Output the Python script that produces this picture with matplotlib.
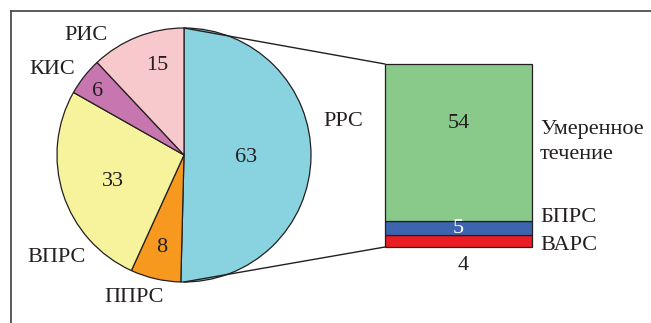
import numpy as np
import matplotlib
import matplotlib.pyplot as plt
from matplotlib.patches import ConnectionPatch
from matplotlib.lines import Line2D

matplotlib.use("Agg")

plt.rcParams["font.family"] = ["Liberation Serif", "DejaVu Serif"]

# pie data (clockwise from 12 o'clock)
pie_labels = ["РРС", "ППРС", "ВПРС", "КИС", "РИС"]
pie_values = [63, 8, 33, 6, 15]
pie_colors = ["#89d3e0", "#f7991f", "#f7f29c", "#c776b0", "#f8c9cc"]

# breakdown of РРС (bottom to top)
bar_labels = ["ВАРС", "БПРС", "Умеренное\nтечение"]
bar_values = [4, 5, 54]
bar_colors = ["#ec1c24", "#3d64af", "#89c98a"]

W, H = 651, 323
TXT = "#231f20"
FS = 16

fig = plt.figure(figsize=(W / 100, H / 100), dpi=100)


def fx(px):
    return px / W


def fy(py):
    return 1 - py / H


# pie axes: centre (184,155) px, radius 127 px
cx, cy, r = 184, 155, 127
pad = 1.1
ax_pie = fig.add_axes([fx(cx - r * pad), fy(cy + r * pad), 2 * r * pad / W, 2 * r * pad / H])
ax_pie.pie(pie_values, colors=pie_colors, startangle=90, counterclock=False,
           radius=1, wedgeprops=dict(edgecolor="#231f20", linewidth=0.9))
ax_pie.set_xlim(-pad, pad)
ax_pie.set_ylim(-pad, pad)
ax_pie.axis("off")

# value labels inside the pie (pixel positions)
pie_value_pos = [(246, 158), (162, 248), (113, 181), (98, 92), (157, 66)]
for v, (px, py) in zip(pie_values, pie_value_pos):
    fig.text(fx(px), fy(py), str(v), ha="center", va="center", fontsize=FS, color=TXT)

# category labels around the pie
pie_label_pos = [(343, 122), (134, 297), (57, 258), (52, 69), (86, 35)]
for lab, (px, py) in zip(pie_labels, pie_label_pos):
    fig.text(fx(px), fy(py), lab, ha="center", va="center", fontsize=FS, color=TXT)

# stacked bar axes
bx0, bx1, by0, by1 = 385, 532, 64, 247
ax_bar = fig.add_axes([fx(bx0), fy(by1), (bx1 - bx0) / W, (by1 - by0) / H])
bottom = 0
for v, c in zip(bar_values, bar_colors):
    ax_bar.bar(0, v, width=1, bottom=bottom, color=c, edgecolor="#231f20",
               linewidth=0.9, clip_on=False)
    bottom += v
ax_bar.set_xlim(-0.5, 0.5)
ax_bar.set_ylim(0, sum(bar_values))
ax_bar.axis("off")

# values on bar
ax_bar.text(0, 4 + 5 + 54 * 0.62, "54", ha="center", va="center", fontsize=FS, color=TXT)
ax_bar.text(0, 4 + 2.4, "5", ha="center", va="center", fontsize=FS, color="white")
fig.text(fx(463), fy(266), "4", ha="center", va="center", fontsize=FS, color=TXT)

# labels right of bar
fig.text(fx(540), fy(142), bar_labels[2], ha="left", va="center", fontsize=FS,
         color=TXT, linespacing=1.45)
fig.text(fx(540), fy(217), bar_labels[1], ha="left", va="center", fontsize=FS, color=TXT)
fig.text(fx(540), fy(246), bar_labels[0], ha="left", va="center", fontsize=FS, color=TXT)

# connector lines pie -> bar
for yp, yb in [(1, sum(bar_values)), (-1, 0)]:
    con = ConnectionPatch(xyA=(0, yp), coordsA=ax_pie.transData,
                          xyB=(-0.5, yb), coordsB=ax_bar.transData,
                          color="#231f20", linewidth=1.0)
    fig.add_artist(con)

# frame (top and left edges, cropped on the other sides)
fig.add_artist(Line2D([fx(10.5), fx(10.5)], [fy(10.5), 0], transform=fig.transFigure,
                      color="#4d4d4d", linewidth=1.3))
fig.add_artist(Line2D([fx(10.5), 1], [fy(10.5), fy(10.5)], transform=fig.transFigure,
                      color="#4d4d4d", linewidth=1.3))

fig.savefig("out.png", dpi=100)
